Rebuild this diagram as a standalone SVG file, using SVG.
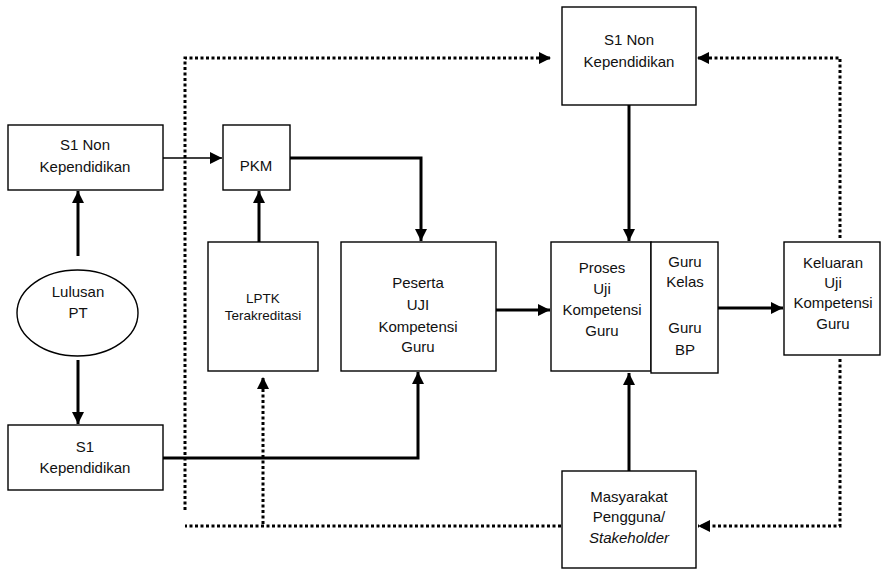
<svg xmlns="http://www.w3.org/2000/svg" width="881" height="569" viewBox="0 0 881 569">
<defs>
<marker id="ah" markerUnits="userSpaceOnUse" markerWidth="12" markerHeight="12" refX="12" refY="6" orient="auto">
<path d="M0,0 L12,6 L0,12 z" fill="#000"/>
</marker>
<style>
.box{fill:#fff;stroke:#000;stroke-width:1.4}
.t{font-family:"Liberation Sans",Arial,sans-serif;font-size:15px;text-anchor:middle;fill:#111}
.s{font-size:13.5px}
.thick{fill:none;stroke:#000;stroke-width:3}
.thin{fill:none;stroke:#000;stroke-width:1.5}
.dot{fill:none;stroke:#000;stroke-width:3;stroke-dasharray:3 2.5}
</style>
</defs>
<rect width="881" height="569" fill="#fff"/>

<g id="connectors">
<line class="thick" x1="78" y1="256" x2="78" y2="191" marker-end="url(#ah)"/>
<line class="thick" x1="78" y1="360" x2="78" y2="424" marker-end="url(#ah)"/>
<line class="thin" x1="163" y1="158" x2="222" y2="158" marker-end="url(#ah)"/>
<line class="thick" x1="259" y1="242" x2="259" y2="191" marker-end="url(#ah)"/>
<polyline class="thick" points="290,158 421,158 421,241" marker-end="url(#ah)"/>
<polyline class="thick" points="163,458 418,458 418,372" marker-end="url(#ah)"/>
<line class="thick" x1="496" y1="310" x2="550" y2="310" marker-end="url(#ah)"/>
<line class="thick" x1="629" y1="105" x2="629" y2="241" marker-end="url(#ah)"/>
<line class="thick" x1="629" y1="471" x2="629" y2="373" marker-end="url(#ah)"/>
<line class="thick" x1="651" y1="308" x2="783" y2="308" marker-end="url(#ah)"/>
<polyline class="dot" points="185,510 185,58 551,58" marker-end="url(#ah)"/>
<polyline class="dot" points="840,238 840,58 697,58" marker-end="url(#ah)"/>
<polyline class="dot" points="840,359 840,526 698,526" marker-end="url(#ah)"/>
<line class="dot" x1="561" y1="526" x2="185" y2="526"/>
<line class="dot" x1="263" y1="524" x2="263" y2="377" marker-end="url(#ah)"/>
</g>

<g id="s1non-left">
<rect class="box" x="8" y="125" width="155" height="65"/>
<text class="t" x="85" y="150">S1 Non</text>
<text class="t" x="85" y="172">Kependidikan</text>
</g>

<g id="lulusan">
<ellipse cx="77.5" cy="313" rx="60.5" ry="43" fill="#fff" stroke="#000" stroke-width="1.4"/>
<text class="t" x="78" y="297">Lulusan</text>
<text class="t" x="78" y="318">PT</text>
</g>

<g id="s1kep">
<rect class="box" x="8" y="425" width="155" height="65"/>
<text class="t" x="85" y="452">S1</text>
<text class="t" x="85" y="473">Kependidikan</text>
</g>

<g id="pkm">
<rect class="box" x="223" y="125" width="67" height="65"/>
<text class="t" x="256" y="171">PKM</text>
</g>

<g id="lptk">
<rect class="box" x="208" y="242" width="110" height="129"/>
<text class="t s" x="263" y="303">LPTK</text>
<text class="t s" x="263" y="320">Terakreditasi</text>
</g>

<g id="peserta">
<rect class="box" x="341" y="242" width="155" height="129"/>
<text class="t" x="418" y="288">Peserta</text>
<text class="t" x="418" y="310">UJI</text>
<text class="t" x="418" y="332">Kompetensi</text>
<text class="t" x="418" y="352">Guru</text>
</g>

<g id="s1non-top">
<rect class="box" x="562" y="7" width="134" height="98"/>
<text class="t" x="629" y="45">S1 Non</text>
<text class="t" x="629" y="67">Kependidikan</text>
</g>

<g id="proses">
<rect class="box" x="551" y="242" width="100" height="129"/>
<text class="t" x="602" y="273">Proses</text>
<text class="t" x="602" y="294">Uji</text>
<text class="t" x="602" y="315">Kompetensi</text>
<text class="t" x="602" y="336">Guru</text>
</g>

<g id="guru">
<rect class="box" x="651" y="242" width="67" height="131"/>
<text class="t" x="685" y="267">Guru</text>
<text class="t" x="685" y="287">Kelas</text>
<text class="t" x="685" y="333">Guru</text>
<text class="t" x="685" y="355">BP</text>
</g>

<g id="keluaran">
<rect class="box" x="784" y="242" width="96" height="113"/>
<text class="t" x="833" y="268">Keluaran</text>
<text class="t" x="833" y="288">Uji</text>
<text class="t" x="833" y="308">Kompetensi</text>
<text class="t" x="833" y="329">Guru</text>
</g>

<g id="masyarakat">
<rect class="box" x="562" y="471" width="134" height="97"/>
<text class="t" x="629" y="502">Masyarakat</text>
<text class="t" x="629" y="522">Pengguna/</text>
<text class="t" x="629" y="543" font-style="italic">Stakeholder</text>
</g>
</svg>
